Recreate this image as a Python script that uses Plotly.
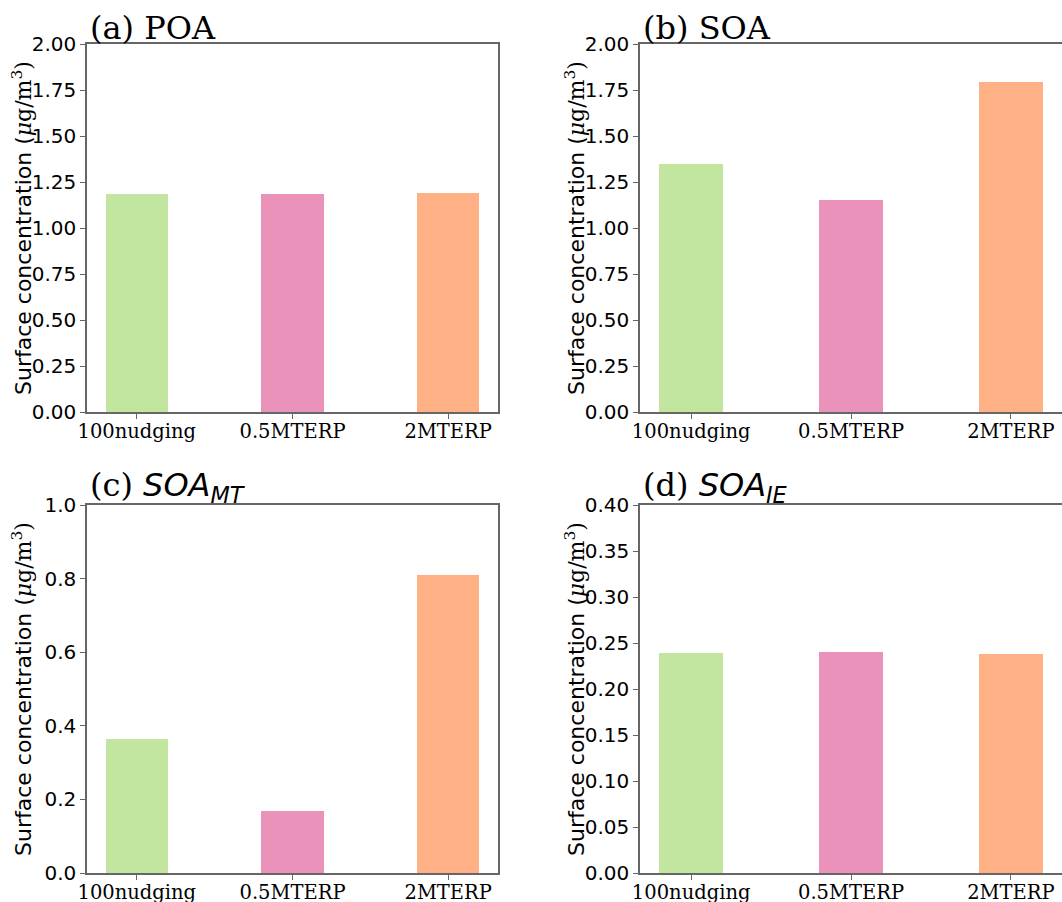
import plotly.graph_objects as go
from plotly.subplots import make_subplots

# Experiments on the x axis
experiments = ["100nudging", "0.5MTERP", "2MTERP"]
bar_colors = ["#c2e5a0", "#ea92b9", "#ffb085"]

# Surface concentrations (ug/m3) for each aerosol component
poa = [1.186, 1.185, 1.188]
soa = [1.349, 1.152, 1.793]
soa_mt = [0.363, 0.168, 0.810]
soa_ie = [0.2395, 0.2397, 0.238]

panel_titles = [
    "(a) POA",
    "(b) SOA",
    "(c) <span style='font-family:DejaVu Sans'><i>SOA</i><sub><i>MT</i></sub></span>",
    "(d) <span style='font-family:DejaVu Sans'><i>SOA</i><sub><i>IE</i></sub></span>",
]
y_ranges = [[0, 2.0], [0, 2.0], [0, 1.0], [0, 0.4]]
y_dticks = [0.25, 0.25, 0.2, 0.05]
y_formats = [".2f", ".2f", ".1f", ".2f"]
series = [poa, soa, soa_mt, soa_ie]

W, H = 1062, 902
SANS = "DejaVu Sans"
SERIF = "DejaVu Serif"
AXIS_COLOR = "#666666"

x_domains = [[87 / W, 498 / W], [640 / W, 1.0]]
y_domains = [[1 - 412 / H, 1 - 44 / H], [1 - 873 / H, 1 - 505 / H]]

fig = make_subplots(rows=2, cols=2)

annotations = []
for i, vals in enumerate(series):
    r, c = i // 2 + 1, i % 2 + 1
    fig.add_trace(
        go.Bar(
            x=[0, 1, 2],
            y=vals,
            width=0.4,
            marker=dict(color=bar_colors, line=dict(width=0)),
            showlegend=False,
        ),
        row=r,
        col=c,
    )
    xd = x_domains[c - 1]
    yd = y_domains[r - 1]
    fig.update_xaxes(
        domain=xd,
        range=[-0.32, 2.32],
        tickmode="array",
        tickvals=[0, 1, 2],
        ticktext=experiments,
        ticks="outside",
        ticklen=5,
        tickwidth=1.2,
        tickcolor=AXIS_COLOR,
        ticklabelstandoff=-4,
        showline=True,
        linecolor=AXIS_COLOR,
        linewidth=1.5,
        mirror=True,
        showgrid=False,
        zeroline=False,
        automargin=False,
        tickfont=dict(family=SERIF, size=19.5, color="black"),
        row=r,
        col=c,
    )
    fig.update_yaxes(
        domain=yd,
        range=y_ranges[i],
        dtick=y_dticks[i],
        tick0=0,
        tickformat=y_formats[i],
        ticks="outside",
        ticklen=5,
        tickwidth=1.2,
        tickcolor=AXIS_COLOR,
        showline=True,
        linecolor=AXIS_COLOR,
        linewidth=1.5,
        mirror=(c == 1),
        showgrid=False,
        zeroline=False,
        automargin=False,
        tickfont=dict(family=SANS, size=20, color="black"),
        row=r,
        col=c,
    )
    # panel title
    annotations.append(
        dict(
            text=panel_titles[i],
            x=xd[0],
            y=yd[1],
            xref="paper",
            yref="paper",
            xanchor="left",
            yanchor="bottom",
            xshift=1,
            yshift=-5,
            showarrow=False,
            font=dict(family=SERIF, size=32, color="black"),
        )
    )
    # y axis label
    label_x = 22 / W if c == 1 else 575 / W
    annotations.append(
        dict(
            text="Surface concentration (<span style='font-family:DejaVu Serif'><i>μ</i>g/m<sup>3</sup>)</span>",
            x=label_x,
            y=(yd[0] + yd[1]) / 2,
            xref="paper",
            yref="paper",
            xanchor="center",
            yanchor="middle",
            textangle=-90,
            showarrow=False,
            font=dict(family=SANS, size=22, color="black"),
        )
    )

fig.update_layout(
    width=W,
    height=H,
    margin=dict(l=0, r=0, t=0, b=0, autoexpand=False),
    plot_bgcolor="white",
    paper_bgcolor="white",
    bargap=0,
    annotations=annotations,
)

fig.write_html("out.html")
